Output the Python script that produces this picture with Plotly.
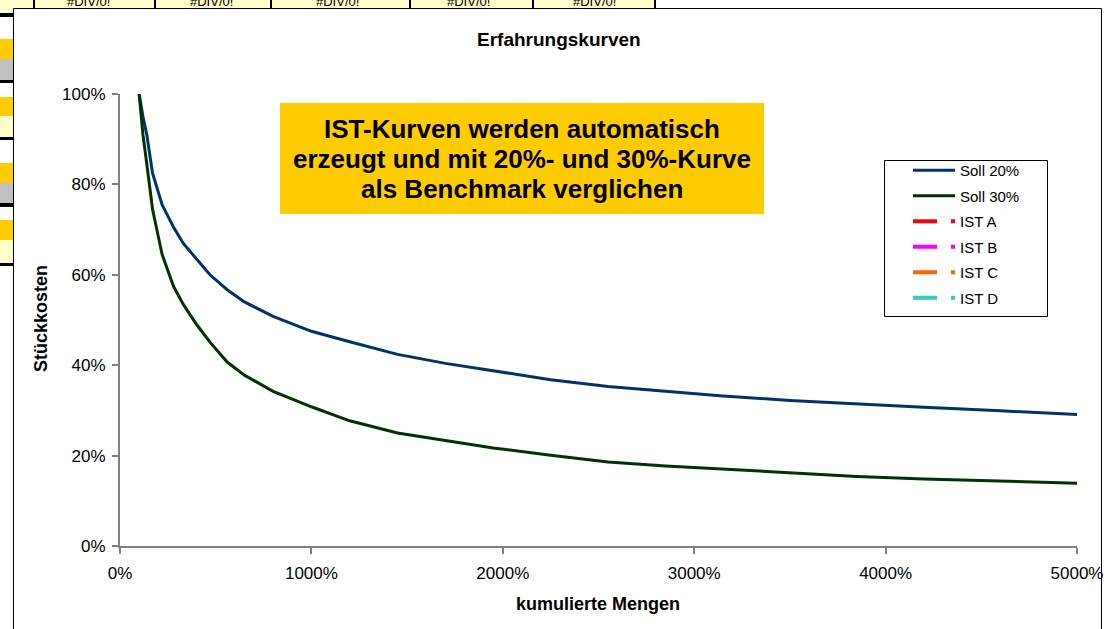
import plotly.graph_objects as go

# ---------------- data ----------------
x_menge = [1, 1.2, 1.4, 1.7, 2.2, 2.8, 3.3, 4, 4.7, 5.6, 6.5, 8, 10, 12, 14.5, 17,
           19.5, 22.5, 25.5, 28.5, 31.5, 35, 38.5, 42, 46, 50]
soll_20 = [1.00, 0.95, 0.91, 0.825, 0.755, 0.705, 0.67, 0.635, 0.60, 0.567, 0.54,
           0.508, 0.475, 0.452, 0.424, 0.404, 0.387, 0.368, 0.353, 0.342, 0.332,
           0.322, 0.314, 0.307, 0.299, 0.291]
soll_30 = [1.00, 0.91, 0.845, 0.745, 0.645, 0.574, 0.535, 0.49, 0.451, 0.407, 0.378,
           0.342, 0.308, 0.277, 0.250, 0.233, 0.217, 0.201, 0.186, 0.177, 0.170,
           0.162, 0.154, 0.148, 0.143, 0.139]
ist_names = ["IST A", "IST B", "IST C", "IST D"]
ist_values = [[None], [None], [None], [None]]  # #DIV/0! -> no values

x_tickvals = [0, 10, 20, 30, 40, 50]
x_ticktext = ["0%", "1000%", "2000%", "3000%", "4000%", "5000%"]
y_tickvals = [0, 0.2, 0.4, 0.6, 0.8, 1.0]
y_ticktext = ["0%", "20%", "40%", "60%", "80%", "100%"]

title_text = "Erfahrungskurven"
x_title = "kumulierte Mengen"
y_title = "Stückkosten"
box_lines = ["IST-Kurven werden automatisch",
             "erzeugt und mit 20%- und 30%-Kurve",
             "als Benchmark verglichen"]
cell_text = "#DIV/0!"

# ---------------- geometry helpers (pixel -> paper) ----------------
W, H = 1109, 629
L, R, T, B = 120, 1077, 94, 546


def px(p):
    return (p - L) / (R - L)


def py(p):
    return (B - p) / (B - T)


FONT = "Arial, 'Liberation Sans', sans-serif"

fig = go.Figure()

fig.add_trace(go.Scatter(x=x_menge, y=soll_20, mode="lines", name="Soll 20%",
                         line=dict(color="#003366", width=3), legendgroup="a"))
fig.add_trace(go.Scatter(x=x_menge, y=soll_30, mode="lines", name="Soll 30%",
                         line=dict(color="#003300", width=3), legendgroup="b"))
ist_colors = ["#FF0000", "#FF00FF", "#FF6600", "#33CCCC"]
for i, (nm, vals) in enumerate(zip(ist_names, ist_values)):
    fig.add_trace(go.Scatter(x=[None], y=vals, mode="lines", name=nm,
                             line=dict(color=ist_colors[i], width=4,
                                       dash="24px,14px,4px,200px"),
                             legendgroup="g%d" % i))

shapes = []
annotations = []

# top spreadsheet strip
shapes.append(dict(type="rect", xref="paper", yref="paper", x0=px(-2), x1=px(655),
                   y0=py(9), y1=py(-2), fillcolor="#FFFFCC", line=dict(width=0)))
for xl in [34, 155, 271, 410, 533, 655]:
    shapes.append(dict(type="line", xref="paper", yref="paper", x0=px(xl), x1=px(xl),
                       y0=py(9), y1=py(-2), line=dict(color="black", width=2)))
for xc in [88, 211, 337, 468, 594]:
    annotations.append(dict(xref="paper", yref="paper", x=px(xc), y=py(11),
                            xanchor="center", yanchor="bottom", showarrow=False,
                            text=cell_text, font=dict(family=FONT, size=13, color="black")))

# left spreadsheet strip
left_cells = [(-2, 13, "#FFFFCC"), (13, 17, "black"), (17, 39, "white"), (39, 59, "#FFCC00"),
              (59, 80, "#C0C0C0"), (80, 83, "black"), (83, 97, "white"), (97, 116, "#FFCC00"),
              (116, 137, "#FFFFCC"), (137, 140, "black"), (140, 163, "white"),
              (163, 183, "#FFCC00"), (183, 203, "#C0C0C0"), (203, 207, "black"),
              (207, 220, "white"), (220, 240, "#FFCC00"), (240, 263, "#FFFFCC"),
              (263, 266, "black")]
for y0, y1, c in left_cells:
    shapes.append(dict(type="rect", xref="paper", yref="paper", x0=px(-2), x1=px(13),
                       y0=py(y1), y1=py(y0), fillcolor=c, line=dict(width=0)))

# chart area border
shapes.append(dict(type="rect", xref="paper", yref="paper", x0=px(13.5), x1=px(1101.5),
                   y0=py(660), y1=py(8.5), line=dict(color="black", width=1),
                   fillcolor="rgba(0,0,0,0)"))

# yellow info box
shapes.append(dict(type="rect", xref="paper", yref="paper", x0=px(280), x1=px(764),
                   y0=py(214), y1=py(103), fillcolor="#FFCC00", line=dict(width=0)))
for yl, txt in zip([129, 159, 189], box_lines):
    annotations.append(dict(xref="paper", yref="paper", x=px(522), y=py(yl),
                            xanchor="center", yanchor="middle", showarrow=False,
                            text="<b>%s</b>" % txt,
                            font=dict(family=FONT, size=26, color="black")))

# legend frame
shapes.append(dict(type="rect", xref="paper", yref="paper", x0=px(884.5), x1=px(1047.5),
                   y0=py(316.5), y1=py(160.5), fillcolor="white",
                   line=dict(color="black", width=1)))

# titles
annotations.append(dict(xref="paper", yref="paper", x=px(559), y=py(40),
                        xanchor="center", yanchor="middle", showarrow=False,
                        text="<b>%s</b>" % title_text,
                        font=dict(family=FONT, size=19, color="black")))
annotations.append(dict(xref="paper", yref="paper", x=px(598), y=py(604),
                        xanchor="center", yanchor="middle", showarrow=False,
                        text="<b>%s</b>" % x_title,
                        font=dict(family=FONT, size=18, color="black")))
annotations.append(dict(xref="paper", yref="paper", x=px(41), y=py(319),
                        xanchor="center", yanchor="middle", showarrow=False, textangle=-90,
                        text="<b>%s</b>" % y_title,
                        font=dict(family=FONT, size=18, color="black")))

fig.update_layout(
    width=W, height=H, autosize=False,
    margin=dict(l=L, r=W - R, t=T, b=H - B, pad=0),
    paper_bgcolor="white", plot_bgcolor="white",
    showlegend=True,
    legend=dict(x=px(908), y=py(154), xanchor="left", yanchor="top",
                bgcolor="rgba(0,0,0,0)", borderwidth=0,
                font=dict(family=FONT, size=15, color="black"),
                itemwidth=42, traceorder="grouped", tracegroupgap=3),
    shapes=shapes, annotations=annotations,
    xaxis=dict(range=[0, 50], tickvals=x_tickvals, ticktext=x_ticktext,
               showgrid=False, zeroline=False, showline=True, linecolor="#808080",
               linewidth=2, ticks="outside", ticklen=6, tickcolor="#808080", tickwidth=1.5,
               tickfont=dict(family=FONT, size=17, color="black"),
               ticklabelstandoff=5, automargin=False, fixedrange=True),
    yaxis=dict(range=[0, 1], tickvals=y_tickvals, ticktext=y_ticktext,
               showgrid=False, zeroline=False, showline=True, linecolor="#808080",
               linewidth=2, ticks="outside", ticklen=6, tickcolor="#808080", tickwidth=1.5,
               tickfont=dict(family=FONT, size=17, color="black"),
               ticklabelstandoff=3, automargin=False, fixedrange=True),
)

fig.write_html("out.html",
               config={"displayModeBar": False},
               post_script="document.body.style.margin='0px';"
                           "document.body.style.overflow='hidden';")
